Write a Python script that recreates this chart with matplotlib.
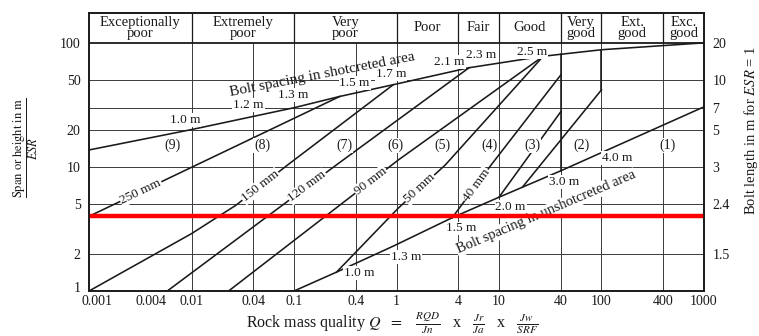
import numpy as np
import matplotlib
matplotlib.use("Agg")
import matplotlib.pyplot as plt
from matplotlib.transforms import ScaledTranslation

plt.rcParams["font.family"] = ["Liberation Serif", "DejaVu Serif"]
plt.rcParams["mathtext.fontset"] = "stix"

# rock mass quality classes along the top band
class_names = ["Exceptionally\npoor", "Extremely\npoor", "Very\npoor", "Poor", "Fair",
               "Good", "Very\ngood", "Ext.\ngood", "Exc.\ngood"]
class_edges = [0.001, 0.01, 0.1, 1, 4, 10, 40, 100, 400, 1000]

# axes ticks
xtick_vals = [0.001, 0.004, 0.01, 0.04, 0.1, 0.4, 1, 4, 10, 40, 100, 400, 1000]
xtick_labels = ["0.001", "0.004", "0.01", "0.04", "0.1", "0.4", "1", "4", "10", "40", "100", "400", "1000"]
ytick_vals = [1, 2, 5, 10, 20, 50, 100]
bolt_vals = [2, 5, 10, 20, 30, 50, 100]
bolt_labels = ["1.5", "2.4", "3", "5", "7", "10", "20"]
grid_q = [0.01, 0.04, 0.1, 0.4, 1, 4, 10, 40, 100, 400]
grid_v = [2, 5, 10, 20, 30, 50]

# bolt spacing lines (Q, span/ESR)
shot_q = [0.001, 0.01, 0.1, 0.28, 0.93, 5.1, 27, 100, 1000]
shot_v = [13.7, 20, 30, 37, 46, 63, 78, 88, 100]
unshot_q = [0.1, 0.26, 0.93, 3.5, 10, 40, 1000]
unshot_v = [1.0, 1.42, 2.3, 3.9, 5.7, 9.3, 30.5]

# support category boundaries
b250_q, b250_v = [0.001, 0.28], [4.0, 37]
b150_q, b150_v = [0.001, 0.01, 0.027, 0.087, 0.93], [1.0, 2.9, 4.9, 10.4, 46]
b120_q, b120_v = [0.0058, 0.26, 5.1], [1.0, 10.4, 63]
b90_q, b90_v = [0.023, 1.045, 27], [1.0, 11.4, 78]
b50_q, b50_v = [0.26, 1.045, 3.0, 27], [1.42, 4.67, 10.4, 78]
b40_q, b40_v = [3.5, 8.4, 40], [3.9, 10.4, 55]
b3_q, b3_v = [10, 40], [5.7, 27.8]
b2_q, b2_v = [17, 100], [6.9, 41.8]

thick_labels = ["250 mm", "150 mm", "120 mm", "90 mm", "50 mm", "40 mm"]
thick_label_q = [0.0032, 0.047, 0.135, 0.56, 1.69, 6.0]

shot_labels = ["1.0 m", "1.2 m", "1.3 m", "1.5 m", "1.7 m", "2.1 m", "2.3 m", "2.5 m"]
shot_label_q = [0.0086, 0.036, 0.098, 0.39, 0.89, 3.3, 6.7, 21]
shot_label_v = [23.9, 31.6, 38, 47.5, 56, 70, 80, 84]

unshot_labels = ["1.0 m", "1.3 m", "1.5 m", "2.0 m", "3.0 m", "4.0 m"]
unshot_label_q = [0.43, 1.25, 4.3, 13, 43, 143]
unshot_label_v = [1.4, 1.88, 3.2, 4.75, 7.6, 11.8]

region_labels = ["(9)", "(8)", "(7)", "(6)", "(5)", "(4)", "(3)", "(2)", "(1)"]
region_q = [0.0065, 0.049, 0.31, 0.98, 2.8, 8.0, 21, 64, 437]
region_v = 15

limit_span = 4  # span/ESR marked in red

YTOP = 174


def on_line(q, qs, vs):
    return 10 ** np.interp(np.log10(q), np.log10(qs), np.log10(vs))


def angle_on(q, qs, vs):
    p = ax.transData.transform([(q / 1.1, on_line(q / 1.1, qs, vs)),
                                (q * 1.1, on_line(q * 1.1, qs, vs))])
    d = p[1] - p[0]
    return np.degrees(np.arctan2(d[1], d[0]))


fig = plt.figure(figsize=(7.59, 3.36), dpi=100)
ax = fig.add_axes([0.1173, 0.1339, 0.8102, 0.8274])
ax.set_xscale("log")
ax.set_yscale("log")
ax.set_xlim(0.001, 1000)
ax.set_ylim(1, YTOP)

ink = "#1a1a1a"
box = dict(facecolor="white", edgecolor="none", pad=0.6)

# grid below the class band
ax.vlines(grid_q, 1, 100, color="#3a3a3a", lw=0.7, zorder=1)
ax.hlines(grid_v, 0.001, 1000, color="#3a3a3a", lw=0.7, zorder=1)

# class band
ax.axhline(100, color=ink, lw=1.3, zorder=2)
ax.vlines(class_edges[1:-1], 100, YTOP, color=ink, lw=0.9, zorder=2)
for i, name in enumerate(class_names):
    xc = np.sqrt(class_edges[i] * class_edges[i + 1])
    ax.text(xc, np.sqrt(100 * YTOP), name, ha="center", va="center",
            fontsize=10.5, linespacing=0.75, color=ink)

# spacing lines and category boundaries
for qs, vs in [(shot_q, shot_v), (unshot_q, unshot_v), (b250_q, b250_v),
               (b150_q, b150_v), (b120_q, b120_v), (b90_q, b90_v),
               (b50_q, b50_v), (b40_q, b40_v), (b3_q, b3_v), (b2_q, b2_v)]:
    ax.plot(qs, vs, color=ink, lw=1.15, zorder=3)
ax.plot([40, 40], [on_line(40, unshot_q, unshot_v), on_line(40, shot_q, shot_v)],
        color=ink, lw=1.15, zorder=3)
ax.plot([100, 100], [b2_v[-1], on_line(100, shot_q, shot_v)],
        color=ink, lw=1.15, zorder=3)

# shotcrete thickness labels sit on their boundary lines
lines = [(b250_q, b250_v), (b150_q, b150_v), (b120_q, b120_v),
         (b90_q, b90_v), (b50_q, b50_v), (b40_q, b40_v)]
for lab, q, (qs, vs) in zip(thick_labels, thick_label_q, lines):
    ax.text(q, on_line(q, qs, vs), lab, ha="center", va="center",
            rotation=angle_on(q, qs, vs), rotation_mode="anchor",
            fontsize=9.5, color=ink, bbox=box, zorder=4)

for lab, q, v in zip(shot_labels, shot_label_q, shot_label_v):
    ax.text(q, v, lab, ha="center", va="center", fontsize=9.5, color=ink,
            bbox=box, zorder=4)
for lab, q, v in zip(unshot_labels, unshot_label_q, unshot_label_v):
    ax.text(q, v, lab, ha="center", va="center", fontsize=9.5, color=ink,
            bbox=box, zorder=4)
for lab, q in zip(region_labels, region_q):
    ax.text(q, region_v, lab, ha="center", va="center", fontsize=10,
            color=ink, bbox=box, zorder=4)

ax.text(0.19, 55, "Bolt spacing in shotcreted area", ha="center", va="center",
        rotation=11, rotation_mode="anchor",
        fontsize=11, color=ink, zorder=4)
ax.text(28.8, 4.3, "Bolt spacing in unshotcreted area", ha="center", va="center",
        rotation=angle_on(28.8, unshot_q, unshot_v), rotation_mode="anchor",
        fontsize=10.5, color=ink, bbox=box, zorder=4)

ax.axhline(limit_span, color="#ff0000", lw=3.2, zorder=6)

# ticks
ax.xaxis.set_minor_locator(matplotlib.ticker.NullLocator())
ax.yaxis.set_minor_locator(matplotlib.ticker.NullLocator())
ax.set_xticks(xtick_vals, labels=xtick_labels)
ax.set_yticks(ytick_vals, labels=[str(v) for v in ytick_vals])
ax.tick_params(axis="both", length=0, labelsize=10, colors=ink)
ax.tick_params(axis="x", pad=3)
ax.tick_params(axis="y", pad=6)
first_x = ax.get_xticklabels()[0]
first_x.set_transform(first_x.get_transform() + ScaledTranslation(6 / 72, 0, fig.dpi_scale_trans))
first_y = ax.get_yticklabels()[0]
first_y.set_transform(first_y.get_transform() + ScaledTranslation(0, 3 / 72, fig.dpi_scale_trans))

ax2 = ax.twinx()
ax2.set_yscale("log")
ax2.set_ylim(1, YTOP)
ax2.yaxis.set_minor_locator(matplotlib.ticker.NullLocator())
ax2.set_yticks(bolt_vals, labels=bolt_labels)
ax2.tick_params(axis="y", length=0, labelsize=10, pad=6, colors=ink)

for a in (ax, ax2):
    for s in a.spines.values():
        s.set_linewidth(1.2)
        s.set_color(ink)

fig.text(26 / 759, 1 - 148 / 336,
         r"$\dfrac{\mathrm{Span\ or\ height\ in\ m}}{ESR}$",
         rotation=90, ha="center", va="center", fontsize=9, color=ink)
fig.text(751 / 759, 1 - 130 / 336, r"Bolt length in m for $ESR$ = 1",
         rotation=90, ha="center", va="center", fontsize=10.5, color=ink)
fig.text(392 / 759, 13 / 336,
         r"Rock mass quality $Q$  $=$   $\frac{RQD}{Jn}$   x   $\frac{Jr}{Ja}$   x   $\frac{Jw}{SRF}$",
         ha="center", va="center", fontsize=11.5, color=ink)

fig.savefig("out.png", dpi=100, facecolor="white")
